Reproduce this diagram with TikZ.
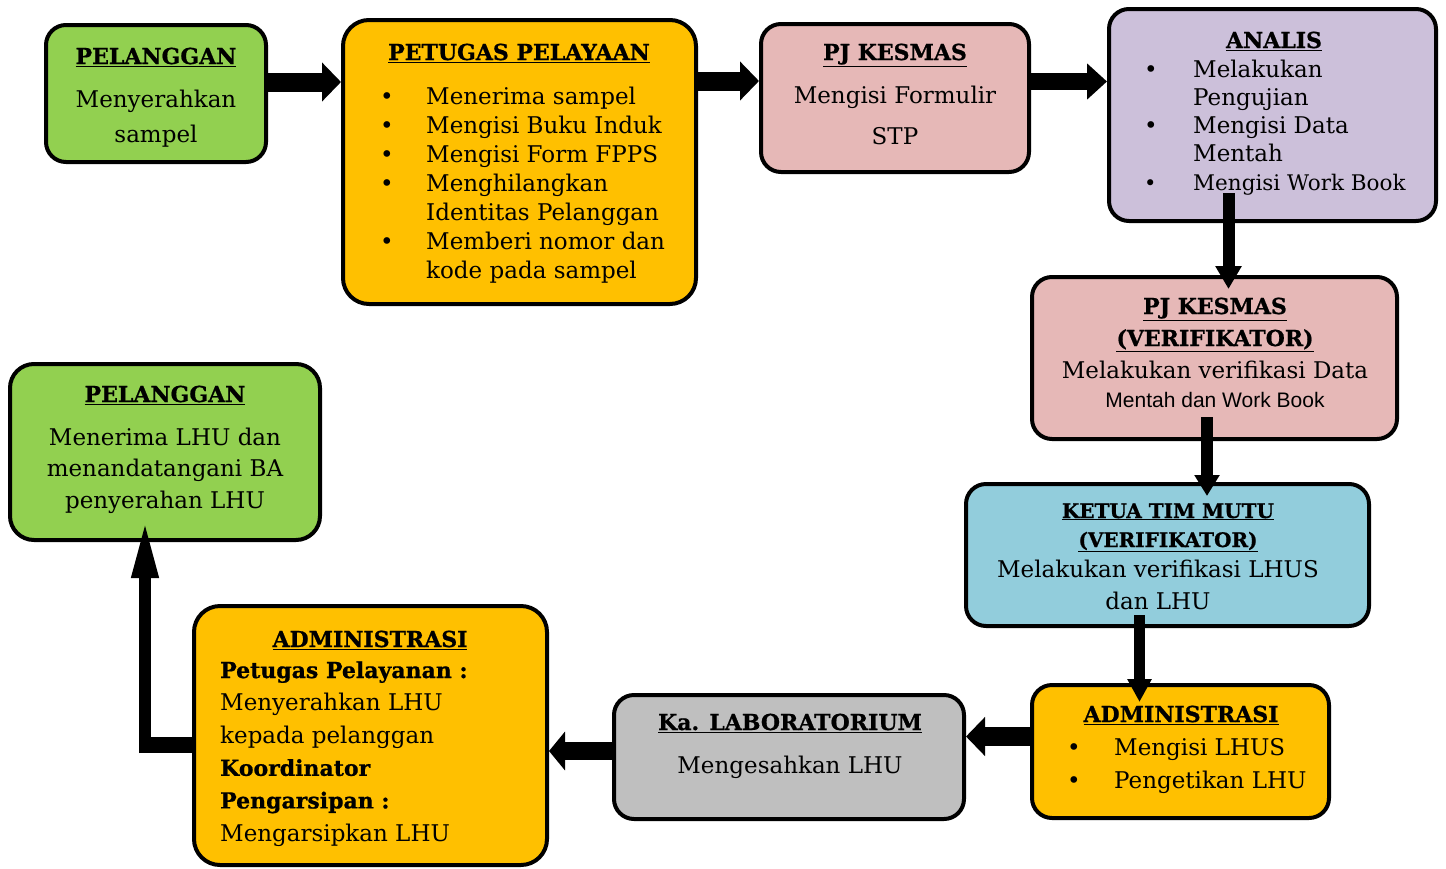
\documentclass[tikz,border=0pt]{standalone}
\usepackage{fontspec}
\setmainfont{DejaVu Serif}[BoldFeatures={FakeBold=0.8}]
\newfontfamily\arialfont{Liberation Sans}
\usetikzlibrary{arrows.meta,calc}
\definecolor{cgreen}{HTML}{92D050}
\definecolor{corange}{HTML}{FFC000}
\definecolor{cpink}{HTML}{E6B8B7}
\definecolor{clav}{HTML}{CCC0DA}
\definecolor{cblue}{HTML}{92CDDC}
\definecolor{cgray}{HTML}{BFBFBF}
\newcommand{\hd}[1]{\fontsize{22}{26}\selectfont\bfseries\underline{#1}}
\newcommand{\hds}[1]{\fontsize{20}{24}\selectfont\bfseries\underline{#1}}
\newcommand{\bt}{\textbullet}
\tikzset{
  box/.style={draw=black, line width=4pt, rounded corners=20pt, inner sep=0pt},
  txt/.style={inner sep=0pt, anchor=base, font=\fontsize{23}{29}\selectfont},
  hrarrow/.style={line width=19pt, -{Triangle[length=19pt,width=38pt]}},
  vtarrow/.style={line width=12pt, -{Triangle[length=23pt,width=25pt]}},
}
\begin{document}
\begin{tikzpicture}[x=1pt,y=-1pt]
\useasboundingbox (0,0) rectangle (1446,868);
% boxes
\node[box, fill=cgreen, minimum width=220pt, minimum height=137pt] (pel1) at (156,93.5) {};
\node[box, fill=corange, minimum width=353pt, minimum height=284pt, rounded corners=26pt] (pet) at (519.5,162) {};
\node[box, fill=cpink, minimum width=268pt, minimum height=148pt] (pj1) at (895,98) {};
\node[box, fill=clav, minimum width=327pt, minimum height=212pt] (ana) at (1272.5,115) {};
\node[box, fill=cpink, minimum width=365pt, minimum height=162pt] (pj2) at (1214.5,358) {};
\node[box, fill=cblue, minimum width=403pt, minimum height=142pt] (ket) at (1167.5,555) {};
\node[box, fill=corange, minimum width=297pt, minimum height=133pt] (adm1) at (1180.5,751.5) {};
\node[box, fill=cgray, minimum width=350pt, minimum height=124pt] (lab) at (789,757) {};
\node[box, fill=corange, minimum width=353pt, minimum height=259pt, rounded corners=26pt] (adm2) at (370.5,735.5) {};
\node[box, fill=cgreen, minimum width=310pt, minimum height=176pt, rounded corners=24pt] (pel2) at (165,452) {};

% box 1
\node[txt] (pel1h) at (156,64) {\hd{PELANGGAN}};
\node[txt] (pel1t) at (156,107) {\begin{tabular}[t]{@{}c@{}}Menyerahkan\\[6pt] sampel\end{tabular}};
% box 2
\node[txt] (peth) at (519,60) {\hd{PETUGAS PELAYAAN}};
\node[txt, anchor=base west] (pett) at (380,104) {\begin{tabular}[t]{@{}p{46pt}@{}l@{}}
\bt & Menerima sampel\\
\bt & Mengisi Buku Induk\\
\bt & Mengisi Form FPPS\\
\bt & Menghilangkan\\
    & Identitas Pelanggan\\
\bt & Memberi nomor dan\\
    & kode pada sampel\end{tabular}};
% box 3
\node[txt] (pj1h) at (895,60) {\hd{PJ KESMAS}};
\node[txt] (pj1t) at (895,103) {\begin{tabular}[t]{@{}c@{}}Mengisi Formulir\\[12pt] STP\end{tabular}};
% box 4
\node[txt] (anah) at (1274,48) {\hd{ANALIS}};
\node[txt, anchor=base west, font=\fontsize{23}{28.3}\selectfont] (anat) at (1144,77) {\begin{tabular}[t]{@{}p{49pt}@{}l@{}}
\bt & Melakukan\\
    & Pengujian\\
\bt & Mengisi Data\\
    & Mentah\\
{\fontsize{21}{28}\selectfont\bt} & {\fontsize{21.5}{28}\selectfont Mengisi Work Book}\end{tabular}};
% box 5
\node[txt] (pj2h) at (1215,314) {\begin{tabular}[t]{@{}c@{}}\hd{PJ KESMAS}\\[3pt]\hd{(VERIFIKATOR)}\end{tabular}};
\node[txt] (pj2t) at (1215,378) {Melakukan verifikasi Data};
\node[txt] (pj2s) at (1215,407) {\arialfont\fontsize{21}{24}\selectfont Mentah dan Work Book};
% box 6
\node[txt] (keth) at (1168,518) {\begin{tabular}[t]{@{}c@{}}\hds{KETUA TIM MUTU}\\\hds{(VERIFIKATOR)}\end{tabular}};
\node[txt] (kett) at (1158,577) {\begin{tabular}[t]{@{}c@{}}Melakukan verifikasi LHUS\\[3pt] dan LHU\end{tabular}};
% box 7
\node[txt] (adm1h) at (1181,722) {\hd{ADMINISTRASI}};
\node[txt, anchor=base west, font=\fontsize{23}{33}\selectfont] (adm1t) at (1067,755) {\begin{tabular}[t]{@{}p{47pt}@{}l@{}}
\bt & Mengisi LHUS\\
\bt & Pengetikan LHU\end{tabular}};
% box 8
\node[txt] (labh) at (790,730) {\hd{Ka. LABORATORIUM}};
\node[txt] (labt) at (790,773) {Mengesahkan LHU};
% box 9
\node[txt] (adm2h) at (370,647) {\hd{ADMINISTRASI}};
\node[txt, anchor=base west, font=\fontsize{23}{32.6}\selectfont] (adm2t) at (220,678) {\begin{tabular}[t]{@{}l@{}}
{\fontsize{22}{32.6}\selectfont\bfseries Petugas Pelayanan :}\\
Menyerahkan LHU\\
kepada pelanggan\\
{\fontsize{22}{32.6}\selectfont\bfseries Koordinator}\\
{\fontsize{22}{32.6}\selectfont\bfseries Pengarsipan :}\\
Mengarsipkan LHU\end{tabular}};
% box 10
\node[txt] (pel2h) at (165,402) {\hd{PELANGGAN}};
\node[txt, font=\fontsize{23}{31.5}\selectfont] (pel2t) at (165,445) {\begin{tabular}[t]{@{}c@{}}Menerima LHU dan\\ menandatangani BA\\ penyerahan LHU\end{tabular}};

% arrows
\draw[hrarrow] (pel1.east |- 0,82) -- (pet.west |- 0,82);
\draw[hrarrow] (pet.east |- 0,81) -- (pj1.west |- 0,81);
\draw[hrarrow, line width=17pt, -{Triangle[length=20pt,width=35pt]}] (pj1.east |- 0,81.5) -- (ana.west |- 0,81.5);
\coordinate (a4s) at (1228.5,193);
\draw[vtarrow] (a4s) -- ($(a4s |- pj2.north)+(0,14)$);
\coordinate (a5s) at (1207,417);
\draw[vtarrow, -{Triangle[length=21pt,width=24pt]}] (a5s) -- ($(a5s |- ket.north)+(0,14)$);
\coordinate (a6s) at (1139.5,615);
\draw[vtarrow, line width=11pt, -{Triangle[length=23pt,width=23pt]}] (a6s) -- ($(a6s |- adm1.north)+(0,19)$);
\draw[hrarrow] (adm1.west |- 0,736.5) -- (lab.east |- 0,736.5);
\draw[hrarrow, line width=18pt, -{Triangle[length=16pt,width=38pt]}] (lab.west |- 0,751) -- (adm2.east |- 0,751);
\coordinate (elb) at (139,745);
\coordinate (elv) at (145,753);
\draw[line width=16pt] (adm2.west |- elb) -- (elb);
\draw[line width=12pt, -{Triangle[length=60pt,width=24pt]}] (elv) -- ($(elv |- pel2.south)+(0,-24)$);
\end{tikzpicture}
\end{document}
